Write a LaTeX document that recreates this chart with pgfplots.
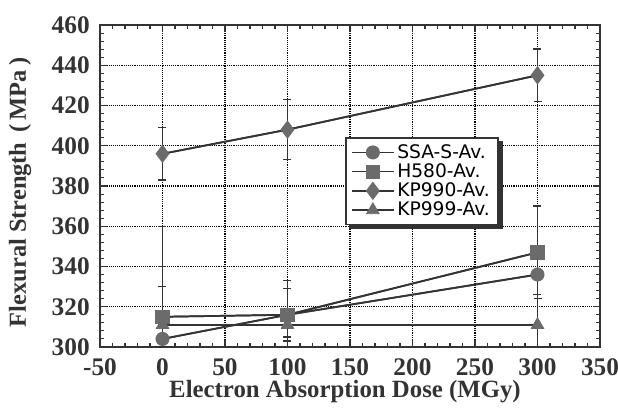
\documentclass[border=0pt]{standalone}
\usepackage{pgfplots}
\pgfplotsset{compat=1.18}
\usepackage{fontspec}
\setmainfont{Liberation Serif}
\newfontfamily\legfont{DejaVu Sans}
\definecolor{mk}{gray}{0.42}
\definecolor{ln}{gray}{0.2}
\begin{document}
\begin{tikzpicture}
\begin{axis}[
 width=375pt, height=241.5pt, scale only axis,
 xmin=-50, xmax=350, ymin=300, ymax=460,
 xtick={-50,0,...,350}, ytick={300,320,...,460},
 minor x tick num=4, minor y tick num=4,
 grid=major, major grid style={densely dotted, black, line width=0.9pt},
 axis line style={line width=1.1pt, ln},
 tick style={ln, line width=0.8pt},
 major tick length=5pt, minor tick length=3pt,
 tick align=inside,
 ticklabel style={font=\bfseries\fontsize{19}{19}\selectfont, text=ln, inner sep=0pt},
 xticklabel style={anchor=center, yshift=-15pt},
 yticklabel style={anchor=east, xshift=-7.5pt},
 /pgf/number format/assume math mode=true,
 xlabel={Electron Absorption Dose (MGy)},
 ylabel={Flexural Strength \,(\,MPa\,)},
 xlabel style={font=\bfseries\fontsize{18.6}{19}\selectfont, text=ln,
   at={(rel axis cs:0.49,-0.14)}, anchor=center},
 ylabel style={font=\bfseries\fontsize{18.3}{19}\selectfont, text=ln,
   at={(rel axis cs:-0.16,0.48)}, anchor=center},
 every axis plot/.append style={line width=1.3pt, ln},
 error bars/error bar style={line width=1pt, ln},
 error bars/error mark options={rotate=90, mark size=3pt, line width=1pt, ln},
 legend style={at={(rel axis cs:0.49,0.652)}, anchor=north west, name=leg,
   font=\legfont\fontsize{14}{15}\selectfont, draw=ln, line width=1.2pt,
   fill=white, inner xsep=4pt, inner ysep=3pt, row sep=-1.5pt},
 legend cell align=left,
 legend image code/.code={\draw[mark repeat=2,mark phase=2] plot coordinates {(0cm,0cm)(0.55cm,0cm)(1.1cm,0cm)};},
]
% error bars (not in legend)
\addplot[forget plot, mark=none, error bars/.cd, y dir=both, y explicit]
 coordinates {(0,304) +- (0,26) (100,316) +- (0,13) (300,336) +- (0,12)};
\addplot[forget plot, mark=none, error bars/.cd, y dir=both, y explicit]
 coordinates {(0,315) +- (0,45) (100,316) +- (0,17) (300,347) +- (0,23)};
\addplot[forget plot, mark=none, error bars/.cd, y dir=both, y explicit]
 coordinates {(0,396) +- (0,13) (100,408) +- (0,15) (300,435) +- (0,13)};
\addplot[forget plot, mark=none, error bars/.cd, y dir=both, y explicit]
 coordinates {(0,311) +- (0,29) (100,311) +- (0,6) (300,311) +- (0,15)};
% series
\addplot[mark=*, mark size=5pt, mark options={fill=mk, draw=mk, line width=0.5pt}]
 coordinates {(0,304) (100,316) (300,336)};
\addlegendentry{SSA-S-Av.}
\addplot[mark=square*, mark size=5pt, mark options={fill=mk, draw=mk, line width=0.5pt}]
 coordinates {(0,315) (100,316) (300,347)};
\addlegendentry{H580-Av.}
\addplot[mark=diamond*, mark size=6.5pt, mark options={fill=mk, draw=mk, line width=0.5pt}]
 coordinates {(0,396) (100,408) (300,435)};
\addlegendentry{KP990-Av.}
\addplot[mark=triangle*, mark size=5.5pt, mark options={fill=mk, draw=mk, line width=0.5pt}]
 coordinates {(0,311) (100,311) (300,311)};
\addlegendentry{KP999-Av.}
\coordinate (bbsw) at (rel axis cs:-0.2,-0.1894);
\coordinate (bbne) at (rel axis cs:1.036,1.0776);
\end{axis}
\fill[ln] ([yshift=-3pt]leg.north east) rectangle ([xshift=3pt,yshift=-3pt]leg.south east);
\fill[ln] ([xshift=3pt]leg.south west) rectangle ([xshift=3pt,yshift=-3pt]leg.south east);
\pgfresetboundingbox
\path (bbsw) rectangle (bbne);
\end{tikzpicture}
\end{document}
